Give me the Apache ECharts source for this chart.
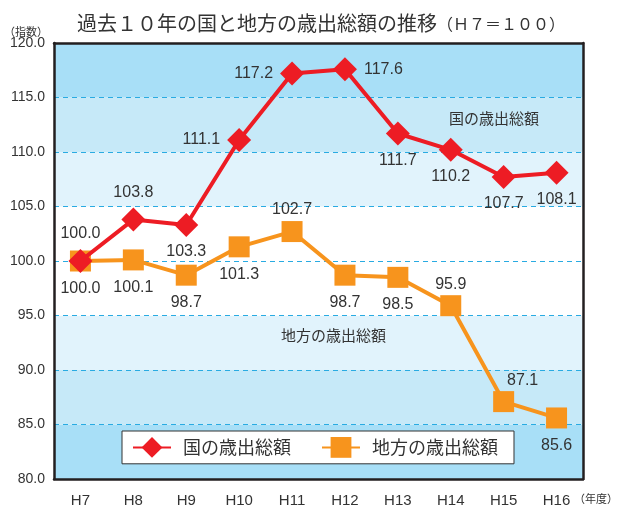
<!DOCTYPE html>
<html>
<head>
<meta charset="utf-8">
<script src="https://cdn.jsdelivr.net/npm/echarts@6/dist/echarts.min.js"></script>
<style>
  html, body { margin: 0; padding: 0; background: #ffffff; }
  #main { width: 622px; height: 513px; }
</style>
</head>
<body>
<div id="main"></div>
<script>
// 年度
var years = ['H7', 'H8', 'H9', 'H10', 'H11', 'H12', 'H13', 'H14', 'H15', 'H16'];
// 国の歳出総額（H7=100）
var kuni = [100.0, 103.8, 103.3, 111.1, 117.2, 117.6, 111.7, 110.2, 107.7, 108.1];
// 地方の歳出総額（H7=100）
var chihou = [100.0, 100.1, 98.7, 101.3, 102.7, 98.7, 98.5, 95.9, 87.1, 85.6];

// ラベル位置
var kuniLabelPos = ['top', 'top', 'bottom', 'left', 'left', 'right', 'bottom', 'bottom', 'bottom', 'bottom'];
var chihouLabelPos = ['bottom', 'bottom', 'bottom', 'bottom', 'top', 'bottom', 'bottom', 'top', 'top', 'bottom'];

var fontJP = '"Noto Sans CJK JP", sans-serif';
var fontNum = '"Liberation Sans", Arial, sans-serif';

function buildData(values, posList, extra) {
  return values.map(function (v, i) {
    var lab = { position: posList[i] };
    if (extra && extra[i]) {
      for (var k in extra[i]) lab[k] = extra[i][k];
    }
    return { value: v, label: lab };
  });
}

var chart = echarts.init(document.getElementById('main'));
chart.setOption({
  animation: false,
  backgroundColor: '#ffffff',
  title: {
    left: 72,
    top: 8,
    text: '{a|過去１０年の国と地方の歳出総額の推移}{b|（Ｈ７＝１００）}',
    textStyle: {
      fontWeight: 'normal',
      rich: {
        a: { fontFamily: fontJP, fontSize: 20, fontWeight: 'normal', color: '#333333' },
        b: { fontFamily: fontJP, fontSize: 16, fontWeight: 'normal', color: '#333333', padding: [2, 0, 0, 0] }
      }
    }
  },
  legend: {
    left: 122,
    top: 431,
    orient: 'horizontal',
    backgroundColor: '#ffffff',
    borderColor: '#333333',
    borderWidth: 1,
    padding: [6, 16, 6, 10],
    itemWidth: 38,
    itemHeight: 26,
    itemGap: 30,
    textStyle: { fontFamily: fontJP, fontSize: 18, color: '#333333', padding: [0, 0, 0, 7] },
    data: ['国の歳出総額', '地方の歳出総額']
  },
  grid: { left: 54, right: 39, top: 43, bottom: 34 },
  xAxis: [{
    type: 'category',
    data: years,
    boundaryGap: true,
    axisLine: { lineStyle: { color: '#231f20', width: 2.5 } },
    axisTick: { inside: true, length: 6, lineStyle: { color: '#231f20', width: 1 } },
    axisLabel: { fontFamily: fontNum, fontSize: 15, color: '#333333', margin: 14 },
    splitLine: { show: false }
  }, {
    type: 'category',
    data: years,
    position: 'top',
    axisLine: { lineStyle: { color: '#231f20', width: 2.5 } },
    axisTick: { show: false },
    axisLabel: { show: false },
    splitLine: { show: false }
  }],
  yAxis: [{
    type: 'value',
    min: 80,
    max: 120,
    interval: 5,
    axisLine: { show: true, lineStyle: { color: '#231f20', width: 2.5 } },
    axisTick: { show: false },
    axisLabel: {
      fontFamily: fontNum, fontSize: 14, color: '#333333', margin: 9,
      formatter: function (v) { return v.toFixed(1); }
    },
    splitLine: { show: true, lineStyle: { color: '#29abe2', width: 1, type: [5, 4] } },
    splitArea: {
      show: true,
      areaStyle: {
        color: ['#a8dff7', '#c6e9f8', '#e1f3fc', '#ffffff', '#ffffff', '#e1f3fc', '#c6e9f8', '#a8dff7']
      }
    }
  }, {
    type: 'value',
    min: 80,
    max: 120,
    interval: 5,
    position: 'right',
    axisLine: { show: true, lineStyle: { color: '#231f20', width: 2.5 } },
    axisTick: { show: false },
    axisLabel: { show: false },
    splitLine: { show: false }
  }],
  series: [{
    name: '国の歳出総額',
    type: 'line',
    z: 4,
    data: buildData(kuni, kuniLabelPos),
    symbol: 'diamond',
    symbolSize: 24,
    lineStyle: { color: '#ed1c24', width: 4 },
    itemStyle: { color: '#ed1c24' },
    label: {
      show: true, distance: 7,
      fontFamily: fontNum, fontSize: 16, color: '#333333',
      formatter: function (p) { return p.value.toFixed(1); }
    }
  }, {
    name: '地方の歳出総額',
    type: 'line',
    z: 3,
    data: buildData(chihou, chihouLabelPos, { 4: { distance: 3 }, 7: { distance: 3 }, 8: { distance: 3, offset: [19, 0] } }),
    symbol: 'rect',
    symbolSize: 21,
    lineStyle: { color: '#f7941d', width: 4 },
    itemStyle: { color: '#f7941d' },
    label: {
      show: true, distance: 9,
      fontFamily: fontNum, fontSize: 16, color: '#333333',
      formatter: function (p) { return p.value.toFixed(1); }
    }
  }],
  graphic: [{
    type: 'text', left: 4, top: 26,
    style: { text: '（指数）', font: '11px ' + fontJP, fill: '#333333' }
  }, {
    type: 'text', left: 574, top: 493,
    style: { text: '（年度）', font: '11px ' + fontJP, fill: '#333333' }
  }, {
    type: 'text', left: 449, top: 111, z: 10,
    style: { text: '国の歳出総額', font: '15px ' + fontJP, fill: '#333333' }
  }, {
    type: 'text', left: 281, top: 328, z: 10,
    style: { text: '地方の歳出総額', font: '15px ' + fontJP, fill: '#333333' }
  }]
});
</script>
</body>
</html>
